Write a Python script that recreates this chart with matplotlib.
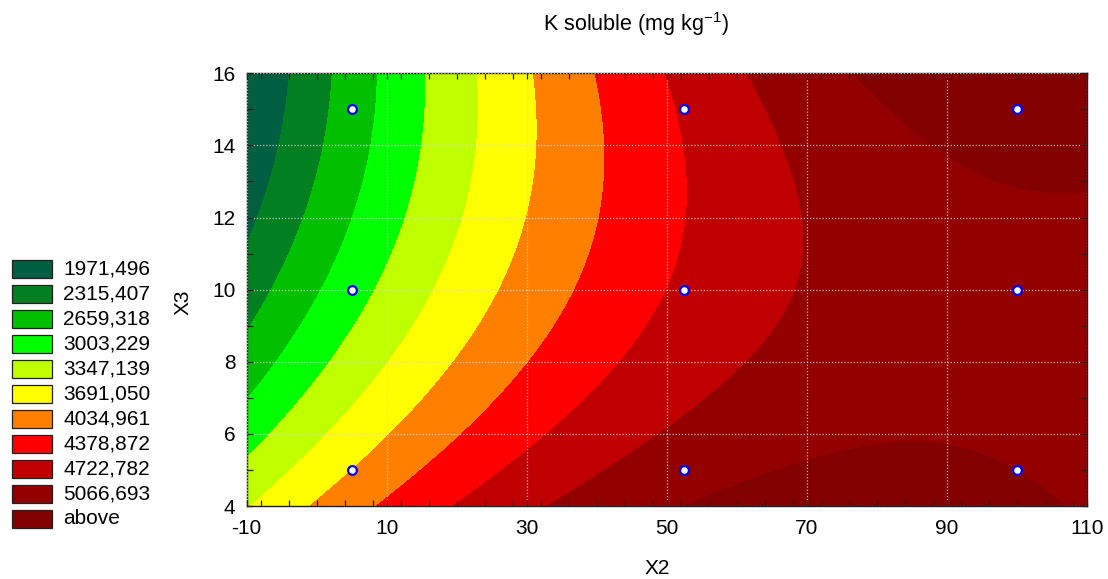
import matplotlib
matplotlib.use("Agg")
import matplotlib.pyplot as plt
import numpy as np
from matplotlib.patches import Rectangle
from matplotlib.ticker import MultipleLocator

plt.rcParams["font.family"] = ["Liberation Sans", "DejaVu Sans"]
plt.rcParams["mathtext.fontset"] = "custom"
plt.rcParams["mathtext.rm"] = "Liberation Sans"
plt.rcParams["axes.unicode_minus"] = False

# 3x3 design: X2 levels, X3 levels and measured soluble K (mg/kg)
X2_LEVELS = [5, 52.5, 100]
X3_LEVELS = [5, 10, 15]
K_AT_X3_5 = [3705, 4900, 5065]
K_AT_X3_10 = [2845, 4435, 4950]
K_AT_X3_15 = [2485, 4430, 5250]

LEVELS = [1971.496, 2315.407, 2659.318, 3003.229, 3347.139,
          3691.050, 4034.961, 4378.872, 4722.782, 5066.693]
LEVEL_LABELS = ["1971,496", "2315,407", "2659,318", "3003,229", "3347,139",
                "3691,050", "4034,961", "4378,872", "4722,782", "5066,693",
                "above"]
COLORS = ["#005f40", "#008020", "#00c000", "#00ff00", "#c0ff00", "#ffff00",
          "#ff8000", "#ff0000", "#c00000", "#930000", "#820000"]

X2_TICKS = [-10, 10, 30, 50, 70, 90, 110]
X3_TICKS = [4, 6, 8, 10, 12, 14, 16]


def fit_quadratic(x, y, z):
    A = np.column_stack([np.ones_like(x), x, y, x**2, y**2, x * y])
    coef, *_ = np.linalg.lstsq(A, z, rcond=None)
    return coef


def eval_quadratic(coef, x, y):
    return (coef[0] + coef[1] * x + coef[2] * y + coef[3] * x**2
            + coef[4] * y**2 + coef[5] * x * y)


def main() -> None:
    px, py = np.meshgrid(X2_LEVELS, X3_LEVELS)
    pz = np.array([K_AT_X3_5, K_AT_X3_10, K_AT_X3_15], dtype=float)
    coef = fit_quadratic(px.ravel().astype(float), py.ravel().astype(float), pz.ravel())

    gx, gy = np.meshgrid(np.linspace(-10, 110, 400), np.linspace(4, 16, 240))
    gz = eval_quadratic(coef, gx, gy)

    fig = plt.figure(figsize=(11.08, 5.79), dpi=100)
    ax = fig.add_axes([246.7 / 1108, 1 - 506 / 579, 840 / 1108, 432.7 / 579])

    bounds = [-1e9] + LEVELS + [1e9]
    ax.contourf(gx, gy, gz, levels=bounds, colors=COLORS, antialiased=False)

    ax.scatter(px.ravel(), py.ravel(), s=40, facecolor="white",
               edgecolor="#0000ff", linewidth=1.6, zorder=4)

    ax.set_xlim(-10, 110)
    ax.set_ylim(4, 16)
    ax.set_xticks(X2_TICKS)
    ax.set_yticks(X3_TICKS)
    ax.xaxis.set_minor_locator(MultipleLocator(4))
    ax.yaxis.set_minor_locator(MultipleLocator(1))
    ax.tick_params(which="both", direction="in", top=True, right=True,
                   length=4, width=0.9, labelsize=15, color="#202020")
    ax.tick_params(axis="x", pad=9.5)
    ax.tick_params(axis="y", pad=8)
    ax.grid(True, which="major", color="#d8d8d8", linestyle=(0, (1, 1.5)),
            linewidth=0.9, alpha=0.85)
    ax.set_axisbelow(False)
    for sp in ax.spines.values():
        sp.set_linewidth(1.0)
        sp.set_color("#202020")

    fig.text(636 / 1108, 1 - 30.7 / 579, "K soluble (mg kg$^{\\mathregular{-1}}$)",
             ha="center", va="baseline", fontsize=15.5)
    fig.text(657 / 1108, 1 - 568 / 579, "X2", ha="center", va="center", fontsize=15)
    fig.text(183 / 1108, 1 - 302 / 579, "X3", ha="center", va="center",
             fontsize=15, rotation=90)

    # colour key down the left side
    for i, (label, color) in enumerate(zip(LEVEL_LABELS, COLORS)):
        top = 260 + 25 * i
        fig.add_artist(Rectangle((13 / 1108, 1 - (top + 19) / 579), 40 / 1108, 18 / 579,
                                 transform=fig.transFigure, facecolor="#808080",
                                 edgecolor="none"))
        fig.add_artist(Rectangle((12 / 1108, 1 - (top + 18) / 579), 40 / 1108, 18 / 579,
                                 transform=fig.transFigure, facecolor=color,
                                 edgecolor="#202020", linewidth=0.9))
        fig.text(63 / 1108, 1 - (top + 9) / 579, label, ha="left", va="center",
                 fontsize=15)

    fig.savefig("out.png", dpi=100, facecolor="white")
    plt.close(fig)


if __name__ == "__main__":
    main()
